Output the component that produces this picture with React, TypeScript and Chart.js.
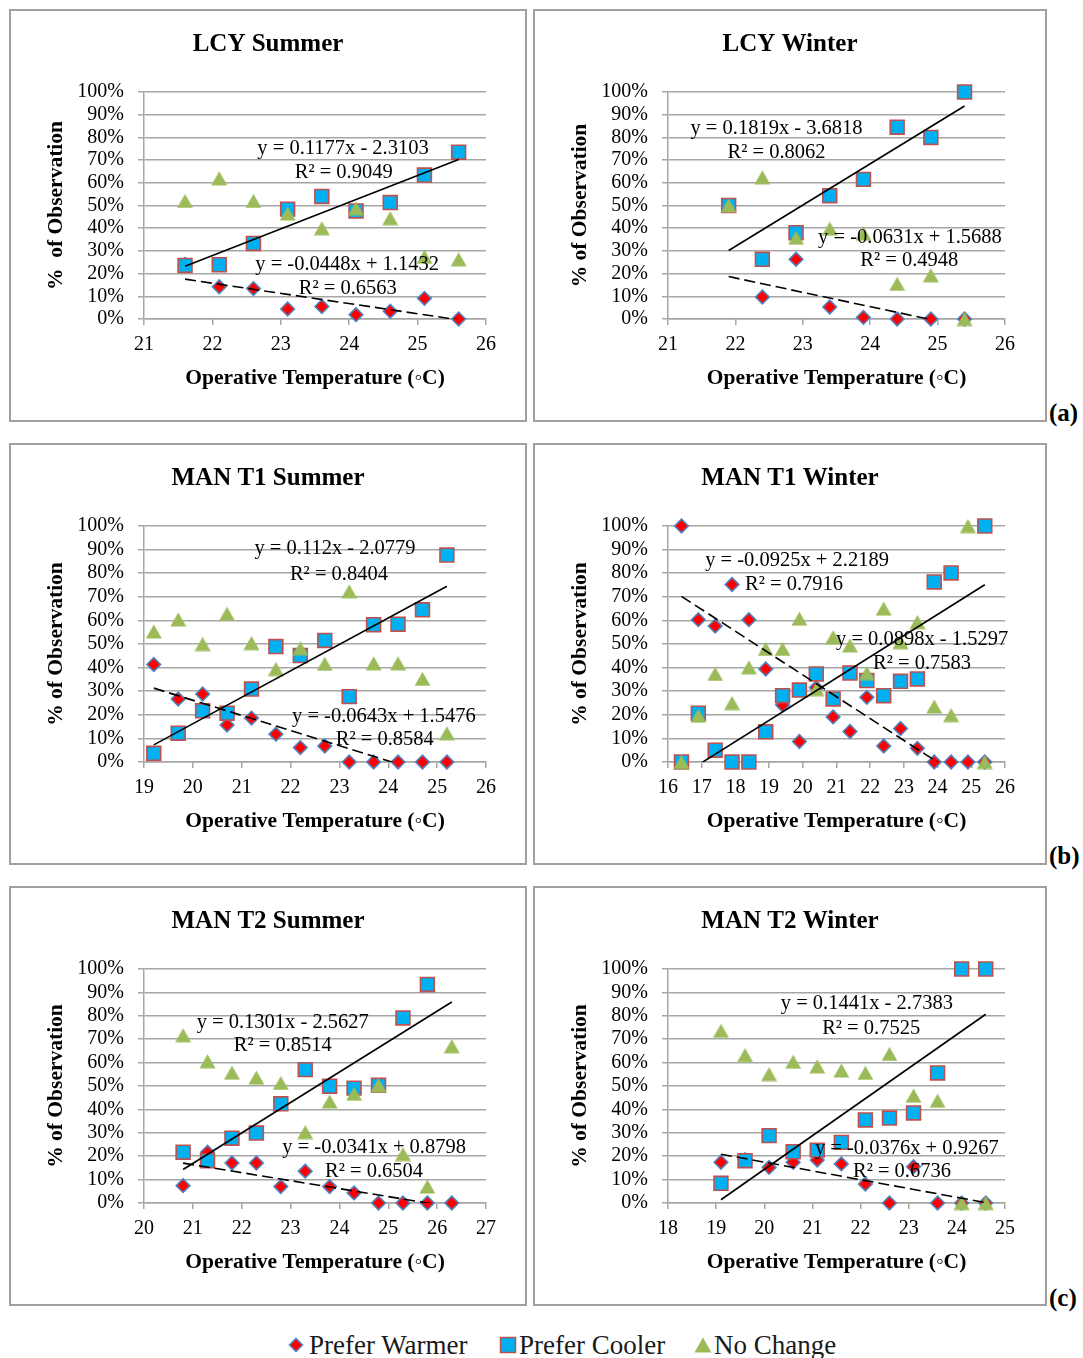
import React, { useEffect, useRef } from "react";
import { Chart, registerables } from "chart.js";

Chart.register(...registerables);

const FONT = "'Liberation Serif', 'Times New Roman', serif";

// ---------------- DATA (percent of observation) ----------------
// LCY Summer
const lcySummerTemp = [21.6, 22.1, 22.6, 23.1, 23.6, 24.1, 24.6, 25.1, 25.6];
const lcySummerWarmer = [24, 14.2, 13.4, 4.4, 5.5, 1.9, 3.4, 9.1, 0];
const lcySummerCooler = [23.6, 23.9, 33.3, 48.4, 54, 47.6, 51.3, 63.4, 73.5];
const lcySummerNoChange = [52, 62, 52, 46.5, 40, 48.7, 44.4, 27.4, 26.3];
const lcySummerCoolerFit = [0.1177, -2.3103];
const lcySummerWarmerFit = [-0.0448, 1.1432];

// LCY Winter
const lcyWinterTemp = [21.9, 22.4, 22.9, 23.4, 23.9, 24.4, 24.9, 25.4];
const lcyWinterWarmer = [null, 9.7, 26.3, 5.3, 0.7, 0, 0, 0];
const lcyWinterCooler = [50, 26.3, 38, 54.3, 61.5, 84.5, 80, 100];
const lcyWinterNoChange = [50, 62.4, 35.8, 39.8, 37.6, 15.5, 19.3, 0];
const lcyWinterCoolerFit = [0.1819, -3.6818];
const lcyWinterWarmerFit = [-0.0631, 1.5688];

// MAN T1 Summer
const t1SummerTemp = [19.2, 19.7, 20.2, 20.7, 21.2, 21.7, 22.2, 22.7, 23.2, 23.7, 24.2, 24.7, 25.2];
const t1SummerWarmer = [41.3, 26.7, 28.8, 15.7, 18.6, 11.8, 6.1, 6.8, 0, 0, 0, 0, 0];
const t1SummerCooler = [3.7, 12.2, 21.7, 20.7, 30.9, 48.9, 45.1, 51.5, 27.7, 58.2, 58.4, 64.5, 87.7];
const t1SummerNoChange = [55.3, 60.4, 50, 62.8, 50.4, 39.4, 48.2, 41.6, 72.3, 41.8, 41.8, 35.2, 12.2];
const t1SummerCoolerFit = [0.112, -2.0779];
const t1SummerWarmerFit = [-0.0643, 1.5476];

// MAN T1 Winter
const t1WinterTemp = [16.4, 16.9, 17.4, 17.9, 18.4, 18.9, 19.4, 19.9, 20.4, 20.9, 21.4, 21.9, 22.4, 22.9, 23.4, 23.9, 24.4, 24.9, 25.4];
const t1WinterWarmer = [100, 60.3, 57.6, 75.2, 60.3, 39.4, 24.1, 8.7, 31.5, 19.1, 12.9, 27.4, 6.8, 14.2, 5.8, 0, 0, 0, 0];
const t1WinterCooler = [0, 20.7, 5, 0, 0, 12.8, 28.1, 30.5, 37.3, 26.7, 37.7, 34.5, 28.1, 34.2, 35.2, 76.3, 80.1, null, 100];
const t1WinterNoChange = [0, 19.6, 37.3, 25, 40.1, 47.9, 47.9, 60.7, 30.9, 52.9, 49.4, 37.7, 65, 50.8, 59.3, 23.5, 19.9, 100, 0];
const t1WinterCoolerFit = [0.0898, -1.5297];
const t1WinterWarmerFit = [-0.0925, 2.2189];

// MAN T2 Summer
const t2SummerTemp = [20.8, 21.3, 21.8, 22.3, 22.8, 23.3, 23.8, 24.3, 24.8, 25.3, 25.8, 26.3];
const t2SummerWarmer = [7.4, 21.7, 17.1, 17.1, 7, 13.6, 7, 4.3, 0, 0, 0, 0];
const t2SummerCooler = [21.7, 18.1, 27.7, 29.9, 42.4, 57, 49.9, 49.1, 50.3, 79.1, 93.4, null];
const t2SummerNoChange = [71.7, 60.6, 55.7, 53.6, 51.3, 30.3, 43.4, 46.7, 50.3, 20.9, 7, 67];
const t2SummerCoolerFit = [0.1301, -2.5627];
const t2SummerWarmerFit = [-0.0341, 0.8798];

// MAN T2 Winter
const t2WinterTemp = [19.1, 19.6, 20.1, 20.6, 21.1, 21.6, 22.1, 22.6, 23.1, 23.6, 24.1, 24.6];
const t2WinterWarmer = [17.4, 18.5, 15.2, 17.4, 18.4, 16.7, 8.1, 0, 15.5, 0, 0, 0];
const t2WinterCooler = [8.4, 18.1, 28.8, 21.9, 22.6, 25.9, 35.5, 36.3, 38.5, 55.6, 100, 100];
const t2WinterNoChange = [73.6, 63.2, 55.1, 60.4, 58.4, 56.6, 55.6, 63.7, 45.9, 43.7, 0, 0];
const t2WinterCoolerFit = [0.1441, -2.7383];
const t2WinterWarmerFit = [-0.0376, 0.9267];

const seriesNames = ["Prefer Warmer", "Prefer Cooler", "No Change"];
const panelLetters = ["(a)", "(b)", "(c)"];

// ---------------- STYLE ----------------
const COOLER_FILL = "#00b0f0";
const COOLER_BORDER = "#c0504d";
const WARMER_FILL = "#ff0000";
const WARMER_BORDER = "#4f81bd";
const NOCHANGE_FILL = "#9bbb59";
const GRID = "#a6a6a6";

type Label = { text: string; x: number; y: number };
type PanelCfg = {
  title: string;
  yTitle: string;
  xMin: number;
  xMax: number;
  temp: number[];
  warmer: (number | null)[];
  cooler: (number | null)[];
  noChange: (number | null)[];
  coolerFit: number[];
  warmerFit: number[];
  labels: Label[];
};

const panels: PanelCfg[] = [
  {
    title: "LCY Summer", yTitle: "%  of Observation", xMin: 21, xMax: 26,
    temp: lcySummerTemp, warmer: lcySummerWarmer, cooler: lcySummerCooler, noChange: lcySummerNoChange,
    coolerFit: lcySummerCoolerFit, warmerFit: lcySummerWarmerFit,
    labels: [
      { text: "y = 0.1177x - 2.3103", x: 23.91, y: 75.0 },
      { text: "R² = 0.9049", x: 23.92, y: 64.5 },
      { text: "y = -0.0448x + 1.1432", x: 23.97, y: 23.9 },
      { text: "R² = 0.6563", x: 23.98, y: 13.4 },
    ],
  },
  {
    title: "LCY Winter", yTitle: "% of Observation", xMin: 21, xMax: 26,
    temp: lcyWinterTemp, warmer: lcyWinterWarmer, cooler: lcyWinterCooler, noChange: lcyWinterNoChange,
    coolerFit: lcyWinterCoolerFit, warmerFit: lcyWinterWarmerFit,
    labels: [
      { text: "y = 0.1819x - 3.6818", x: 22.61, y: 83.8 },
      { text: "R² = 0.8062", x: 22.61, y: 73.3 },
      { text: "y = -0.0631x + 1.5688", x: 24.59, y: 35.8 },
      { text: "R² = 0.4948", x: 24.58, y: 25.7 },
    ],
  },
  {
    title: "MAN T1 Summer", yTitle: "% of Observation", xMin: 19, xMax: 26,
    temp: t1SummerTemp, warmer: t1SummerWarmer, cooler: t1SummerCooler, noChange: t1SummerNoChange,
    coolerFit: t1SummerCoolerFit, warmerFit: t1SummerWarmerFit,
    labels: [
      { text: "y = 0.112x - 2.0779", x: 22.91, y: 90.3 },
      { text: "R² = 0.8404", x: 22.99, y: 79.3 },
      { text: "y = -0.0643x + 1.5476", x: 23.91, y: 19.3 },
      { text: "R² = 0.8584", x: 23.93, y: 9.5 },
    ],
  },
  {
    title: "MAN T1 Winter", yTitle: "% of Observation", xMin: 16, xMax: 26,
    temp: t1WinterTemp, warmer: t1WinterWarmer, cooler: t1WinterCooler, noChange: t1WinterNoChange,
    coolerFit: t1WinterCoolerFit, warmerFit: t1WinterWarmerFit,
    labels: [
      { text: "y = -0.0925x + 2.2189", x: 19.83, y: 85.2 },
      { text: "R² = 0.7916", x: 19.74, y: 75.0 },
      { text: "y = 0.0898x - 1.5297", x: 23.54, y: 52.0 },
      { text: "R² = 0.7583", x: 23.54, y: 41.8 },
    ],
  },
  {
    title: "MAN T2 Summer", yTitle: "% of Observation", xMin: 20, xMax: 27,
    temp: t2SummerTemp, warmer: t2SummerWarmer, cooler: t2SummerCooler, noChange: t2SummerNoChange,
    coolerFit: t2SummerCoolerFit, warmerFit: t2SummerWarmerFit,
    labels: [
      { text: "y = 0.1301x - 2.5627", x: 22.84, y: 77.1 },
      { text: "R² = 0.8514", x: 22.84, y: 67.2 },
      { text: "y = -0.0341x + 0.8798", x: 24.71, y: 23.6 },
      { text: "R² = 0.6504", x: 24.71, y: 13.4 },
    ],
  },
  {
    title: "MAN T2 Winter", yTitle: "% of Observation", xMin: 18, xMax: 25,
    temp: t2WinterTemp, warmer: t2WinterWarmer, cooler: t2WinterCooler, noChange: t2WinterNoChange,
    coolerFit: t2WinterCoolerFit, warmerFit: t2WinterWarmerFit,
    labels: [
      { text: "y = 0.1441x - 2.7383", x: 22.13, y: 85.2 },
      { text: "R² = 0.7525", x: 22.22, y: 74.5 },
      { text: "y = -0.0376x + 0.9267", x: 22.96, y: 23.2 },
      { text: "R² = 0.6736", x: 22.86, y: 13.4 },
    ],
  },
];

function makeTriangle(): HTMLCanvasElement {
  const c = document.createElement("canvas");
  c.width = 17;
  c.height = 15;
  const g = c.getContext("2d")!;
  g.fillStyle = NOCHANGE_FILL;
  g.beginPath();
  g.moveTo(8.5, 0.5);
  g.lineTo(16.5, 14.5);
  g.lineTo(0.5, 14.5);
  g.closePath();
  g.fill();
  return c;
}

function pts(xs: number[], ys: (number | null)[]) {
  const out: { x: number; y: number }[] = [];
  xs.forEach((x, i) => {
    const y = ys[i];
    if (y !== null && y !== undefined) out.push({ x, y });
  });
  return out;
}

function fitLine(fit: number[], xs: number[]) {
  const x0 = xs[0];
  const x1 = xs[xs.length - 1];
  return [
    { x: x0, y: (fit[0] * x0 + fit[1]) * 100 },
    { x: x1, y: (fit[0] * x1 + fit[1]) * 100 },
  ];
}

type Box = { left: number; top: number; width: number; height: number; padRight: number };

function Panel({ cfg, box }: { cfg: PanelCfg; box: Box }) {
  const ref = useRef<HTMLCanvasElement>(null);
  useEffect(() => {
    const tri = makeTriangle();
    const textPlugin = {
      id: "panelText",
      afterDatasetsDraw(chart: any) {
        const ctx = chart.ctx;
        const xs = chart.scales.x;
        const ys = chart.scales.y;
        ctx.save();
        ctx.fillStyle = "#000";
        ctx.textAlign = "center";
        ctx.textBaseline = "middle";
        ctx.font = `20.5px ${FONT}`;
        cfg.labels.forEach((l) => {
          ctx.fillText(l.text, xs.getPixelForValue(l.x), ys.getPixelForValue(l.y));
        });
        ctx.font = `bold 25px ${FONT}`;
        ctx.fillText(cfg.title, chart.width / 2, 34);
        ctx.restore();
      },
    };
    const chart = new Chart(ref.current!, {
      type: "scatter",
      data: {
        datasets: [
          {
            label: "Cooler trend",
            data: fitLine(cfg.coolerFit, cfg.temp),
            showLine: true,
            borderColor: "#000",
            borderWidth: 1.6,
            pointRadius: 0,
            order: 0,
          } as any,
          {
            label: "Warmer trend",
            data: fitLine(cfg.warmerFit, cfg.temp),
            showLine: true,
            borderColor: "#000",
            borderWidth: 1.6,
            borderDash: [11, 5],
            pointRadius: 0,
            order: 0,
          },
          {
            label: seriesNames[2],
            data: pts(cfg.temp, cfg.noChange),
            pointStyle: tri,
            pointRadius: 8,
            clip: false,
            order: 1,
          },
          {
            label: seriesNames[1],
            data: pts(cfg.temp, cfg.cooler),
            pointStyle: "rect",
            pointRadius: 9.8,
            backgroundColor: COOLER_FILL,
            borderColor: COOLER_BORDER,
            borderWidth: 1.6,
            clip: false,
            order: 2,
          },
          {
            label: seriesNames[0],
            data: pts(cfg.temp, cfg.warmer),
            pointStyle: "rectRot",
            pointRadius: 6.8,
            backgroundColor: WARMER_FILL,
            borderColor: WARMER_BORDER,
            borderWidth: 1.6,
            clip: false,
            order: 3,
          },
        ],
      },
      options: {
        responsive: false,
        animation: false,
        events: [],
        layout: { padding: { left: 0, right: box.padRight, top: 81, bottom: 21 } },
        plugins: {
          legend: { display: false },
          tooltip: { enabled: false },
          title: { display: false },
        },
        scales: {
          x: {
            type: "linear",
            min: cfg.xMin,
            max: cfg.xMax,
            afterFit: (s: any) => {
              s.height = 80;
            },
            ticks: {
              stepSize: 1,
              autoSkip: false,
              color: "#000",
              padding: 8,
              font: { family: FONT, size: 20 },
            },
            grid: { drawOnChartArea: false, drawTicks: true, tickLength: 6, color: GRID, lineWidth: 1.5 },
            border: { display: true, color: GRID, width: 1.5 },
            title: {
              display: true,
              text: "Operative Temperature (◦C)",
              color: "#000",
              font: { family: FONT, size: 21.5, weight: "bold" },
              padding: { top: 0, bottom: 8 },
            },
          },
          y: {
            min: 0,
            max: 100,
            afterFit: (s: any) => {
              s.width = 133;
            },
            ticks: {
              stepSize: 10,
              autoSkip: false,
              color: "#000",
              padding: 14,
              font: { family: FONT, size: 20 },
              callback: (v: any) => `${v}%`,
            },
            grid: { color: GRID, lineWidth: 1.5, tickLength: 6, drawTicks: true },
            border: { display: true, color: GRID, width: 1.5 },
            title: {
              display: true,
              text: cfg.yTitle,
              color: "#000",
              font: { family: FONT, size: 21.5, weight: "bold" },
              padding: { top: 33, bottom: 0 },
            },
          },
        },
      } as any,
      plugins: [textPlugin],
    });
    return () => chart.destroy();
  }, [cfg, box]);

  return (
    <div
      style={{
        position: "absolute",
        left: box.left,
        top: box.top,
        width: box.width,
        height: box.height,
        border: "2px solid #a0a0a0",
        boxSizing: "border-box",
        background: "#fff",
      }}
    >
      <canvas ref={ref} width={box.width - 4} height={box.height - 4} style={{ display: "block" }} />
    </div>
  );
}

const boxes: Box[] = [
  { left: 9, top: 9, width: 518, height: 413, padRight: 39 },
  { left: 533, top: 9, width: 514, height: 413, padRight: 40 },
  { left: 9, top: 443, width: 518, height: 422, padRight: 39 },
  { left: 533, top: 443, width: 514, height: 422, padRight: 40 },
  { left: 9, top: 886, width: 518, height: 420, padRight: 39 },
  { left: 533, top: 886, width: 514, height: 420, padRight: 40 },
];
const letterTops = [401, 844, 1286];

function Diamond() {
  return (
    <svg width="16" height="16" style={{ position: "absolute", left: 288, top: 1337 }}>
      <polygon points="8,1.5 14.5,8 8,14.5 1.5,8" fill={WARMER_FILL} stroke={WARMER_BORDER} strokeWidth="1.5" />
    </svg>
  );
}
function Square() {
  return (
    <svg width="18" height="18" style={{ position: "absolute", left: 499, top: 1336 }}>
      <rect x="1.5" y="1.5" width="15" height="15" fill={COOLER_FILL} stroke={COOLER_BORDER} strokeWidth="1.5" />
    </svg>
  );
}
function Triangle() {
  return (
    <svg width="18" height="16" style={{ position: "absolute", left: 694, top: 1337 }}>
      <polygon points="9,0.5 17.5,15.5 0.5,15.5" fill={NOCHANGE_FILL} />
    </svg>
  );
}

export default function App() {
  const legendText: React.CSSProperties = {
    position: "absolute",
    top: 1330,
    height: 30,
    lineHeight: "30px",
    fontFamily: FONT,
    fontSize: 27,
    color: "#1a1a1a",
    whiteSpace: "nowrap",
  };
  return (
    <div
      style={{
        position: "absolute",
        left: 0,
        top: 0,
        width: 1083,
        height: 1358,
        overflow: "hidden",
        background: "#fff",
      }}
    >
      {panels.map((p, i) => (
        <Panel key={p.title} cfg={p} box={boxes[i]} />
      ))}
      {panelLetters.map((t, i) => (
        <div
          key={t}
          style={{
            position: "absolute",
            left: 1049,
            top: letterTops[i],
            lineHeight: "24px",
            fontFamily: FONT,
            fontWeight: "bold",
            fontSize: 25,
            color: "#000",
          }}
        >
          {t}
        </div>
      ))}
      <Diamond />
      <div style={{ ...legendText, left: 309 }}>{seriesNames[0]}</div>
      <Square />
      <div style={{ ...legendText, left: 519 }}>{seriesNames[1]}</div>
      <Triangle />
      <div style={{ ...legendText, left: 714 }}>{seriesNames[2]}</div>
    </div>
  );
}
